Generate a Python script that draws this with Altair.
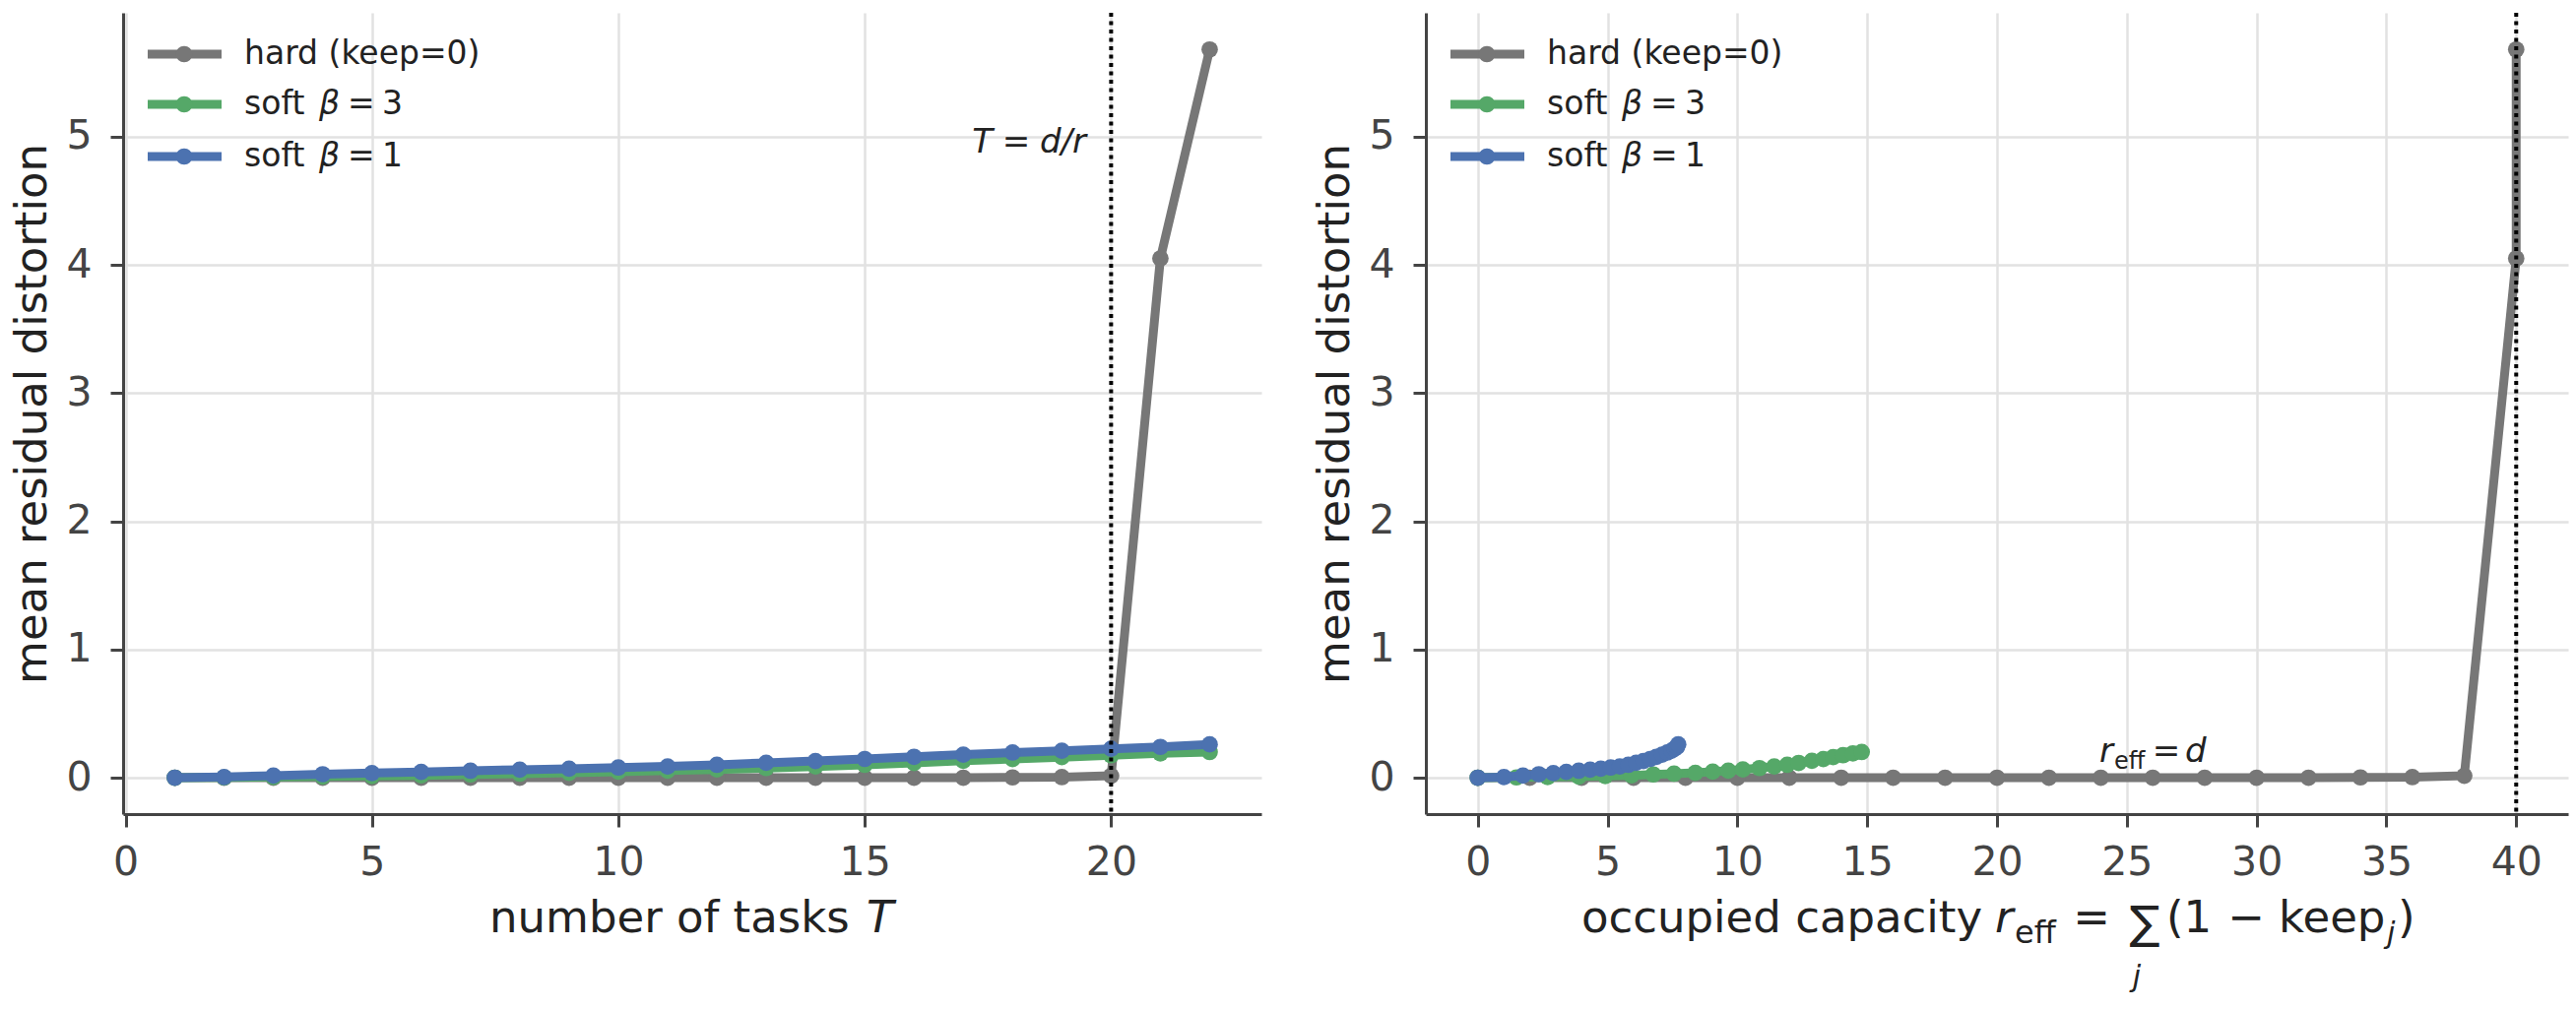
import altair as alt
import pandas as pd

# ---------------- data ----------------
T = list(range(1, 23))
hard_y = [0.0, 0.0, 0.0, 0.0, 0.0, 0.0, 0.0, 0.0, 0.0, 0.0, 0.0, 0.0, 0.0, 0.0,
          0.0, 0.0, 0.0, 0.002, 0.004, 0.015, 4.05, 5.68]
soft3_y = [0.0, 0.002, 0.005, 0.009, 0.013, 0.018, 0.025, 0.031, 0.038, 0.047, 0.055,
           0.064, 0.075, 0.087, 0.1, 0.115, 0.132, 0.145, 0.16, 0.175, 0.19, 0.2]
soft1_y = [0.0, 0.005, 0.016, 0.027, 0.036, 0.045, 0.054, 0.062, 0.07, 0.079, 0.088,
           0.1, 0.116, 0.13, 0.146, 0.163, 0.18, 0.196, 0.21, 0.225, 0.24, 0.26]
hard_r = [0, 2, 4, 6, 8, 10, 12, 14, 16, 18, 20, 22, 24, 26, 28, 30, 32, 34, 36, 38, 40, 40]
soft3_r = [0.0, 1.49, 2.69, 3.89, 4.91, 5.92, 6.76, 7.56, 8.38, 9.05, 9.65, 10.21,
           10.85, 11.42, 11.92, 12.36, 12.87, 13.31, 13.69, 14.07, 14.45, 14.79]
soft1_r = [0.0, 1.01, 1.74, 2.35, 2.91, 3.41, 3.89, 4.33, 4.74, 5.12, 5.47, 5.8,
           6.1, 6.38, 6.64, 6.88, 7.1, 7.3, 7.46, 7.58, 7.67, 7.72]

series_keys = ["hard", "soft3", "soft1"]
series_colors = ["#777777", "#55a868", "#4c72b0"]
y_ticks = [0, 1, 2, 3, 4, 5]
left_x_ticks = [0, 5, 10, 15, 20]
right_x_ticks = [0, 5, 10, 15, 20, 25, 30, 35, 40]

rows = []
for key, ys, rs in zip(series_keys, [hard_y, soft3_y, soft1_y], [hard_r, soft3_r, soft1_r]):
    for t, y, r in zip(T, ys, rs):
        rows.append({"series": key, "T": t, "r": r, "y": y})
df = pd.DataFrame(rows)
dummy = pd.DataFrame({"a": [0]})

FONT = "DejaVu Sans"
TXT = "#222222"
H = 814
W_LEFT = 1156
W_RIGHT = 1160
LW = 9
PS = 280

color_enc = alt.Color("series:N", scale=alt.Scale(domain=series_keys, range=series_colors), legend=None)


def txt(text, x, y, size, italic=False, align="left", baseline="alphabetic"):
    return alt.Chart(dummy).mark_text(
        text=text, font=FONT, fontSize=size, fontStyle="italic" if italic else "normal",
        align=align, baseline=baseline, color=TXT
    ).encode(x=alt.value(x), y=alt.value(y))


def legend_layers():
    out = []
    ly = [42, 93, 146]
    for i, col in enumerate(series_colors):
        out.append(alt.Chart(dummy).mark_rule(color=col, strokeWidth=LW).encode(
            x=alt.value(25), x2=alt.value(100), y=alt.value(ly[i])))
        out.append(alt.Chart(dummy).mark_circle(color=col, size=PS, opacity=1).encode(
            x=alt.value(62), y=alt.value(ly[i])))
    out.append(txt("hard (keep=0)", 123, ly[0], 33, baseline="middle"))
    for i, num in [(1, "3"), (2, "1")]:
        out.append(txt("soft", 123, ly[i], 33, baseline="middle"))
        out.append(txt("β", 199, ly[i], 33, italic=True, baseline="middle"))
        out.append(txt("=", 228, ly[i], 33, baseline="middle"))
        out.append(txt(num, 263, ly[i], 33, baseline="middle"))
    return out


def panel(xfield, xdomain, xticks, vline, width, extra):
    xs = alt.Scale(domain=xdomain, nice=False, zero=False)
    ys = alt.Scale(domain=[-0.284, 5.966], nice=False, zero=False)
    xax = alt.Axis(values=xticks, title=None, grid=True, labelFlush=False, labelOverlap=False,
                   labelPadding=16)
    yax = alt.Axis(values=y_ticks, title="mean residual distortion", grid=True, labelFlush=False,
                   labelOverlap=False, labelPadding=19, titlePadding=11)
    layers = []
    for key in series_keys:
        b = alt.Chart(df).transform_filter(alt.datum.series == key)
        layers.append(b.mark_line(strokeWidth=LW, strokeJoin="round").encode(
            x=alt.X(f"{xfield}:Q", scale=xs, axis=xax),
            y=alt.Y("y:Q", scale=ys, axis=yax),
            color=color_enc, order=alt.Order("T:Q")))
        layers.append(b.mark_circle(size=PS, opacity=1).encode(
            x=alt.X(f"{xfield}:Q", scale=xs, axis=xax),
            y=alt.Y("y:Q", scale=ys, axis=yax),
            color=color_enc))
    layers.append(alt.Chart(dummy).mark_rule(color="black", strokeWidth=4,
                                             strokeDash=[4, 4.5]).encode(
        x=alt.X(datum=vline, scale=xs, axis=xax)))
    layers += legend_layers()
    layers += extra
    return alt.layer(*layers).properties(width=width, height=H)


left_extra = [
    txt("T", 883, 142, 34, italic=True, align="right"),
    txt("=", 907, 142, 34, align="center"),
    txt("d/r", 931, 142, 34, italic=True),
    txt("number of tasks", 372, 934, 45),
    txt("T", 755, 934, 45, italic=True),
]
right_extra = [
    txt("r", 684, 761, 34, italic=True),
    txt("eff", 699, 768, 24),
    txt("=", 752, 761, 34, align="center"),
    txt("d", 771, 761, 34, italic=True),
    txt("occupied capacity", 158, 934, 45),
    txt("r", 578, 934, 45, italic=True),
    txt("eff", 598, 945, 32),
    txt("=", 676, 934, 45, align="center"),
    txt("∑", 730, 940, 46, align="center"),
    txt("j", 722, 989, 30, italic=True, align="center"),
    txt("(1", 752, 934, 45),
    txt("−", 833, 934, 45, align="center"),
    txt("keep", 866, 934, 45),
    txt("j", 976, 945, 30, italic=True),
    txt(")", 987, 934, 45),
]

left = panel("T", [-0.05, 23.05], left_x_ticks, 20, W_LEFT, left_extra)
right = panel("r", [-2, 42], right_x_ticks, 40, W_RIGHT, right_extra)

chart = alt.hconcat(left, right, spacing=52).properties(
    padding={"left": 10, "top": 11, "right": 6, "bottom": 5},
    background="white",
).configure_view(stroke=None).configure_axis(
    labelFont=FONT, labelFontSize=41, labelColor="#444444",
    titleFont=FONT, titleFontSize=45, titleFontWeight="normal", titleColor=TXT,
    domainColor="#444444", domainWidth=3, tickColor="#444444", tickWidth=3, tickSize=13,
    gridColor="#e2e2e2", gridWidth=2.5,
)

chart.save("out.html", embed_options={"renderer": "svg", "actions": False})
